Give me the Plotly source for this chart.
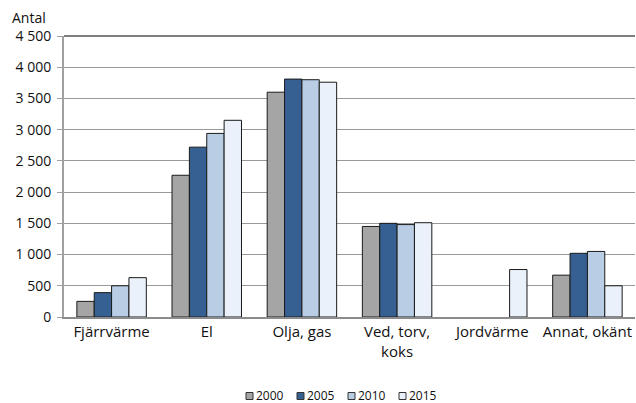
import plotly.graph_objects as go

categories = ["Fjärrvärme", "El", "Olja, gas", "Ved, torv,<br>koks", "Jordvärme", "Annat, okänt"]
years = ["2000", "2005", "2010", "2015"]
v2000 = [250, 2270, 3600, 1450, None, 670]
v2005 = [390, 2720, 3810, 1500, None, 1020]
v2010 = [500, 2940, 3800, 1480, None, 1050]
v2015 = [630, 3150, 3760, 1510, 760, 500]
colors = ["#A5A5A5", "#376092", "#B9CDE5", "#EBF1FA"]

series = [v2000, v2005, v2010, v2015]

fig = go.Figure()
for name, vals, col in zip(years, series, colors):
    fig.add_trace(go.Bar(
        x=categories, y=vals, name=name,
        marker=dict(color=col, line=dict(color="#1a1a1a", width=1)),
        showlegend=False,
    ))

# compact legend (Excel style: small square immediately followed by label)
L, R, T, B, W, H = 64, 1, 36, 86, 636, 403
plot_w, plot_h = W - L - R, H - T - B
leg_start_px, leg_step_px, leg_y_px = 246, 51, 396
shapes, annotations = [], []
for i, (name, col) in enumerate(zip(years, colors)):
    xpx = leg_start_px + i * leg_step_px
    xa = (xpx - L) / plot_w
    ya = (H - B - leg_y_px) / plot_h
    shapes.append(dict(type="rect", xref="paper", yref="paper",
                       xsizemode="pixel", ysizemode="pixel",
                       xanchor=xa, yanchor=ya, x0=0, x1=7, y0=-3.5, y1=3.5,
                       fillcolor=col, line=dict(color="#333", width=1)))
    annotations.append(dict(text=name, xref="paper", yref="paper", x=xa, y=ya,
                            xshift=8, xanchor="left", yanchor="middle",
                            showarrow=False, font=dict(size=12)))

# darker top border line of the plot area
shapes.append(dict(type="line", xref="paper", yref="paper", x0=0, x1=1, y0=1, y1=1,
                   line=dict(color="#555555", width=1.5), layer="above"))

annotations.append(dict(text="Antal", xref="paper", yref="paper", x=0.0, y=1.0,
                        xshift=-16, yshift=7, xanchor="right", yanchor="bottom",
                        showarrow=False, font=dict(size=14)))

font = "Open Sans"
fig.update_layout(
    width=W, height=H,
    margin=dict(l=L, r=R, t=T, b=B, autoexpand=False),
    paper_bgcolor="white", plot_bgcolor="white",
    barmode="group", bargap=0.27, bargroupgap=0,
    separators=", ",
    font=dict(family=font, size=12, color="#111"),
    showlegend=False,
    xaxis=dict(showline=True, linecolor="#8c8c8c", linewidth=2, ticks="",
               tickfont=dict(size=15), showgrid=False, ticklabelstandoff=0),
    yaxis=dict(range=[0, 4500], dtick=500, tickformat=",d", showline=True,
               linecolor="#a0a0a0", linewidth=2, ticks="outside", ticklen=5,
               tickcolor="#a0a0a0", gridcolor="#999999", gridwidth=1.2,
               tickfont=dict(size=14), zeroline=False, ticklabelstandoff=3),
    shapes=shapes,
    annotations=annotations,
)

fig.write_html("out.html", config={"displayModeBar": False},
               post_script="document.body.style.margin='0';")
